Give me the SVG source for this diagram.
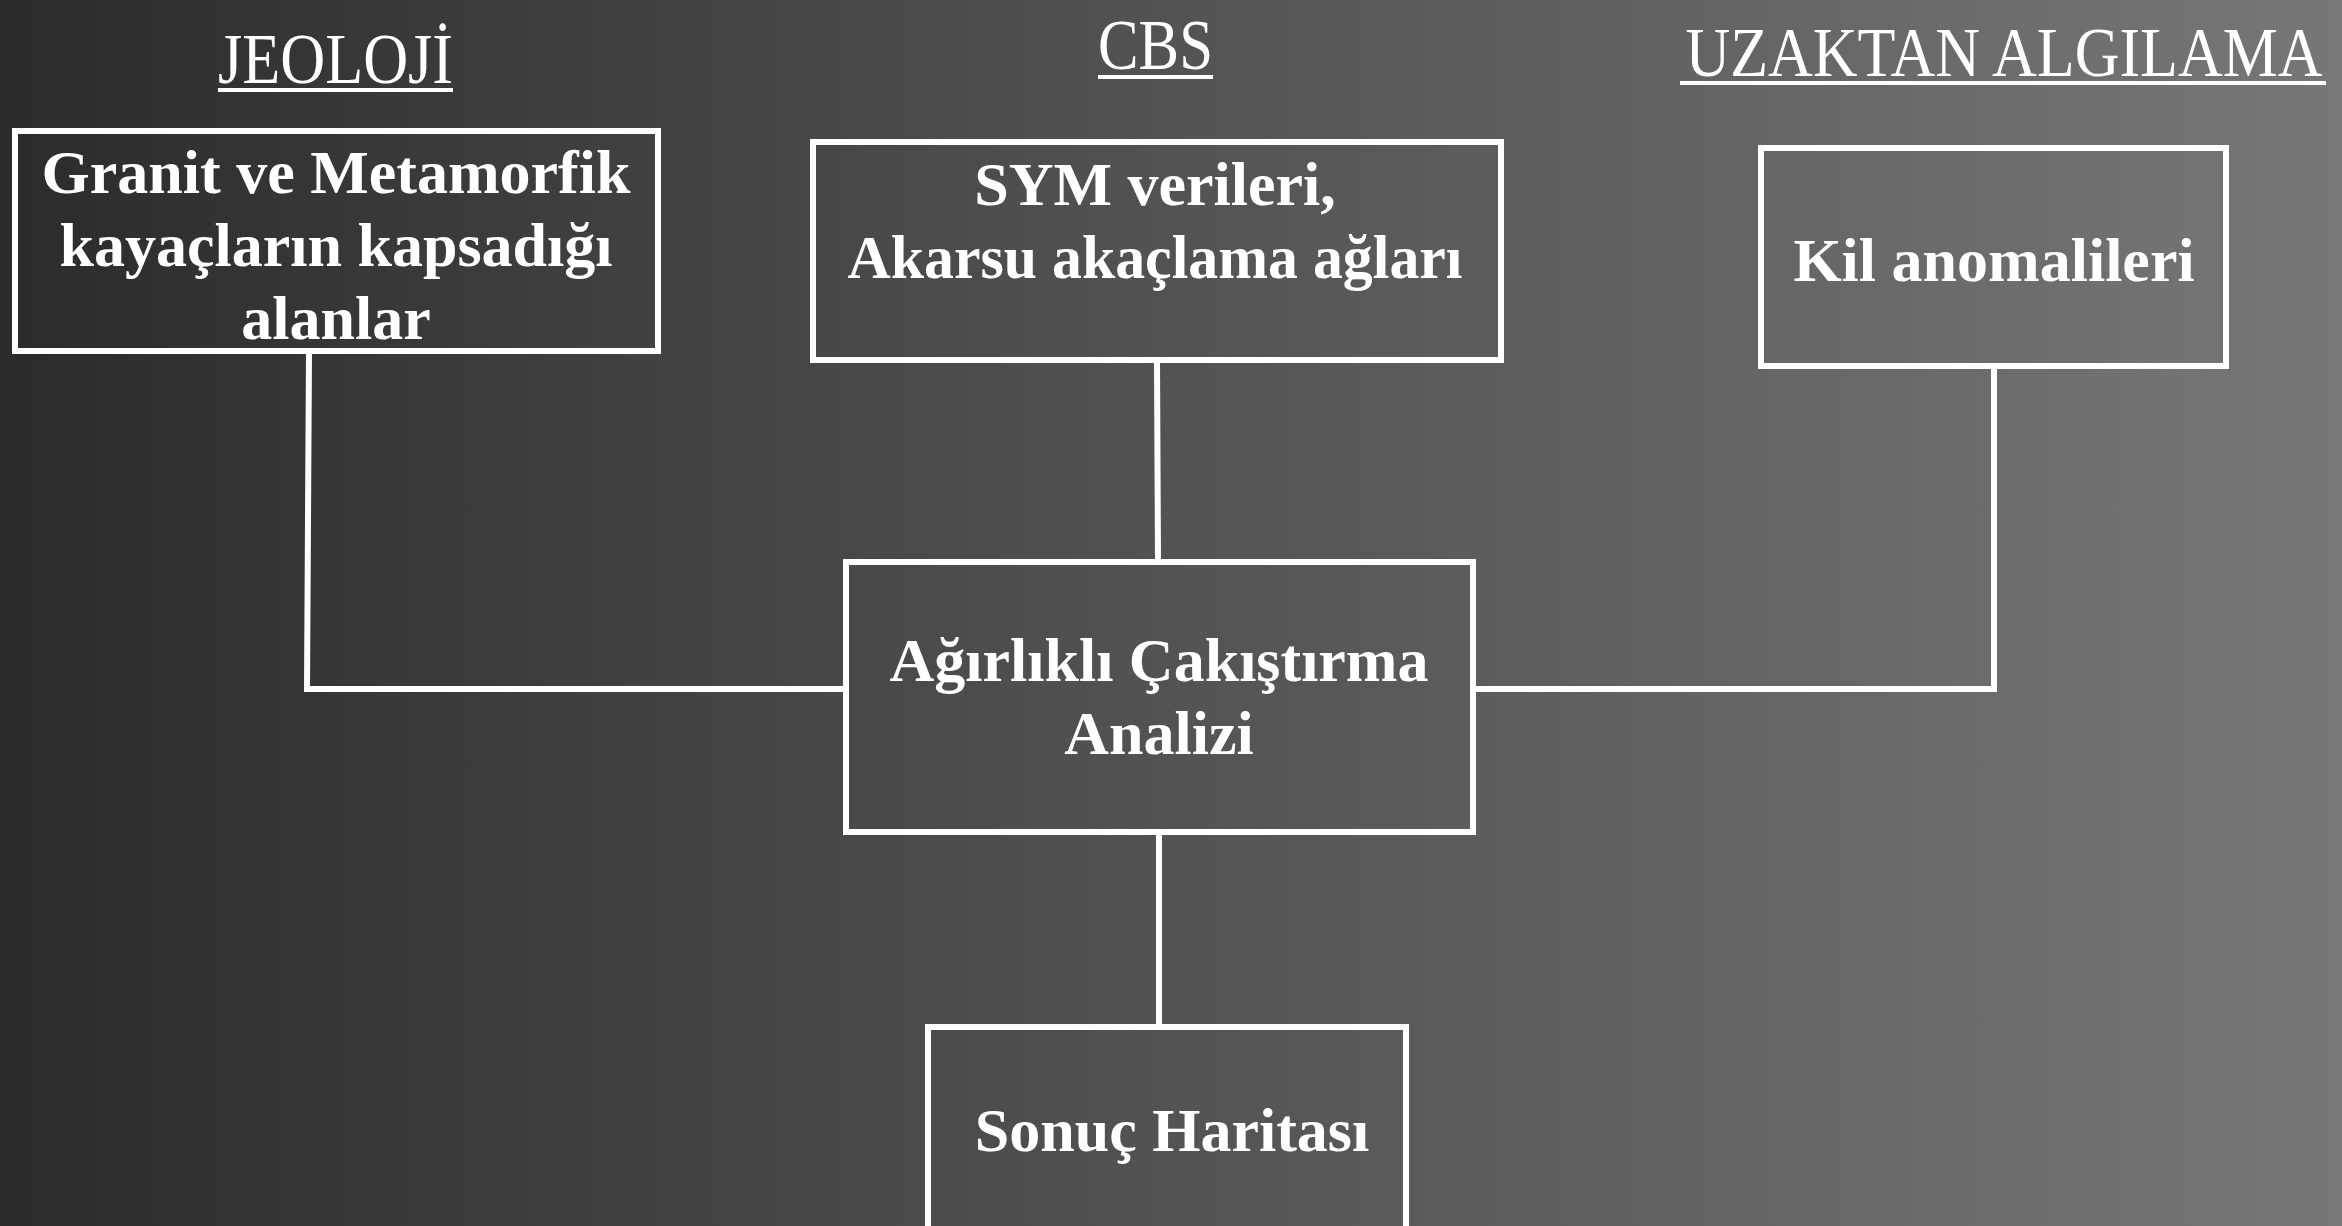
<svg xmlns="http://www.w3.org/2000/svg" width="2342" height="1226" viewBox="0 0 2342 1226">
<defs>
<linearGradient id="bg" x1="0" y1="0" x2="1" y2="0">
<stop offset="0" stop-color="#2c2b2a"/>
<stop offset="0.5" stop-color="#545351"/>
<stop offset="1" stop-color="#777777"/>
</linearGradient>
<style>
.box{fill:none;stroke:#ffffff;stroke-width:6}
.conn{fill:none;stroke:#ffffff;stroke-width:6}
.t{font-family:"Liberation Serif","DejaVu Serif",serif;font-weight:bold;font-size:62px;fill:#ffffff;text-anchor:middle}
.h{font-family:"Liberation Serif","DejaVu Serif",serif;font-size:72px;fill:#ffffff}
.ul{stroke:#ffffff;stroke-width:4}
</style>
</defs>
<rect x="0" y="0" width="2342" height="1226" fill="url(#bg)"/>
<g id="titles">
<text class="h" x="218" y="83" textLength="235" lengthAdjust="spacingAndGlyphs">JEOLOJİ</text>
<line class="ul" x1="218" y1="90" x2="453" y2="90"/>
<text class="h" x="1098" y="69" textLength="115" lengthAdjust="spacingAndGlyphs">CBS</text>
<line class="ul" x1="1098" y1="77" x2="1213" y2="77"/>
<text class="h" transform="translate(2004,76) scale(1,1.13)" x="0" y="0" style="font-size:62px;text-anchor:middle">UZAKTAN ALGILAMA</text>
<line class="ul" x1="1680" y1="83" x2="2326" y2="83"/>
</g>
<g id="connectors">
<polyline class="conn" points="309,352 307,689 844,689"/>
<line class="conn" x1="1157" y1="361" x2="1158" y2="560"/>
<polyline class="conn" points="1994,367 1994,689 1474,689"/>
<line class="conn" x1="1159" y1="833" x2="1159" y2="1025"/>
</g>
<g id="jeoloji">
<rect class="box" x="15" y="131" width="643" height="220"/>
<text class="t" x="336" y="193">Granit ve Metamorfik</text>
<text class="t" x="336" y="266">kayaçların kapsadığı</text>
<text class="t" x="336" y="339">alanlar</text>
</g>
<g id="cbs">
<rect class="box" x="813" y="142" width="688" height="218"/>
<text class="t" x="1155" y="205">SYM verileri,</text>
<text class="t" x="1155" y="278" textLength="615" lengthAdjust="spacingAndGlyphs">Akarsu akaçlama ağları</text>
</g>
<g id="uzaktan">
<rect class="box" x="1761" y="148" width="465" height="218"/>
<text class="t" x="1994" y="281">Kil anomalileri</text>
</g>
<g id="analiz">
<rect class="box" x="846" y="562" width="627" height="270"/>
<text class="t" x="1159" y="681">Ağırlıklı Çakıştırma</text>
<text class="t" x="1159" y="754">Analizi</text>
</g>
<g id="sonuc">
<rect class="box" x="928" y="1027" width="478" height="220"/>
<text class="t" x="1172" y="1151">Sonuç Haritası</text>
</g>
</svg>
